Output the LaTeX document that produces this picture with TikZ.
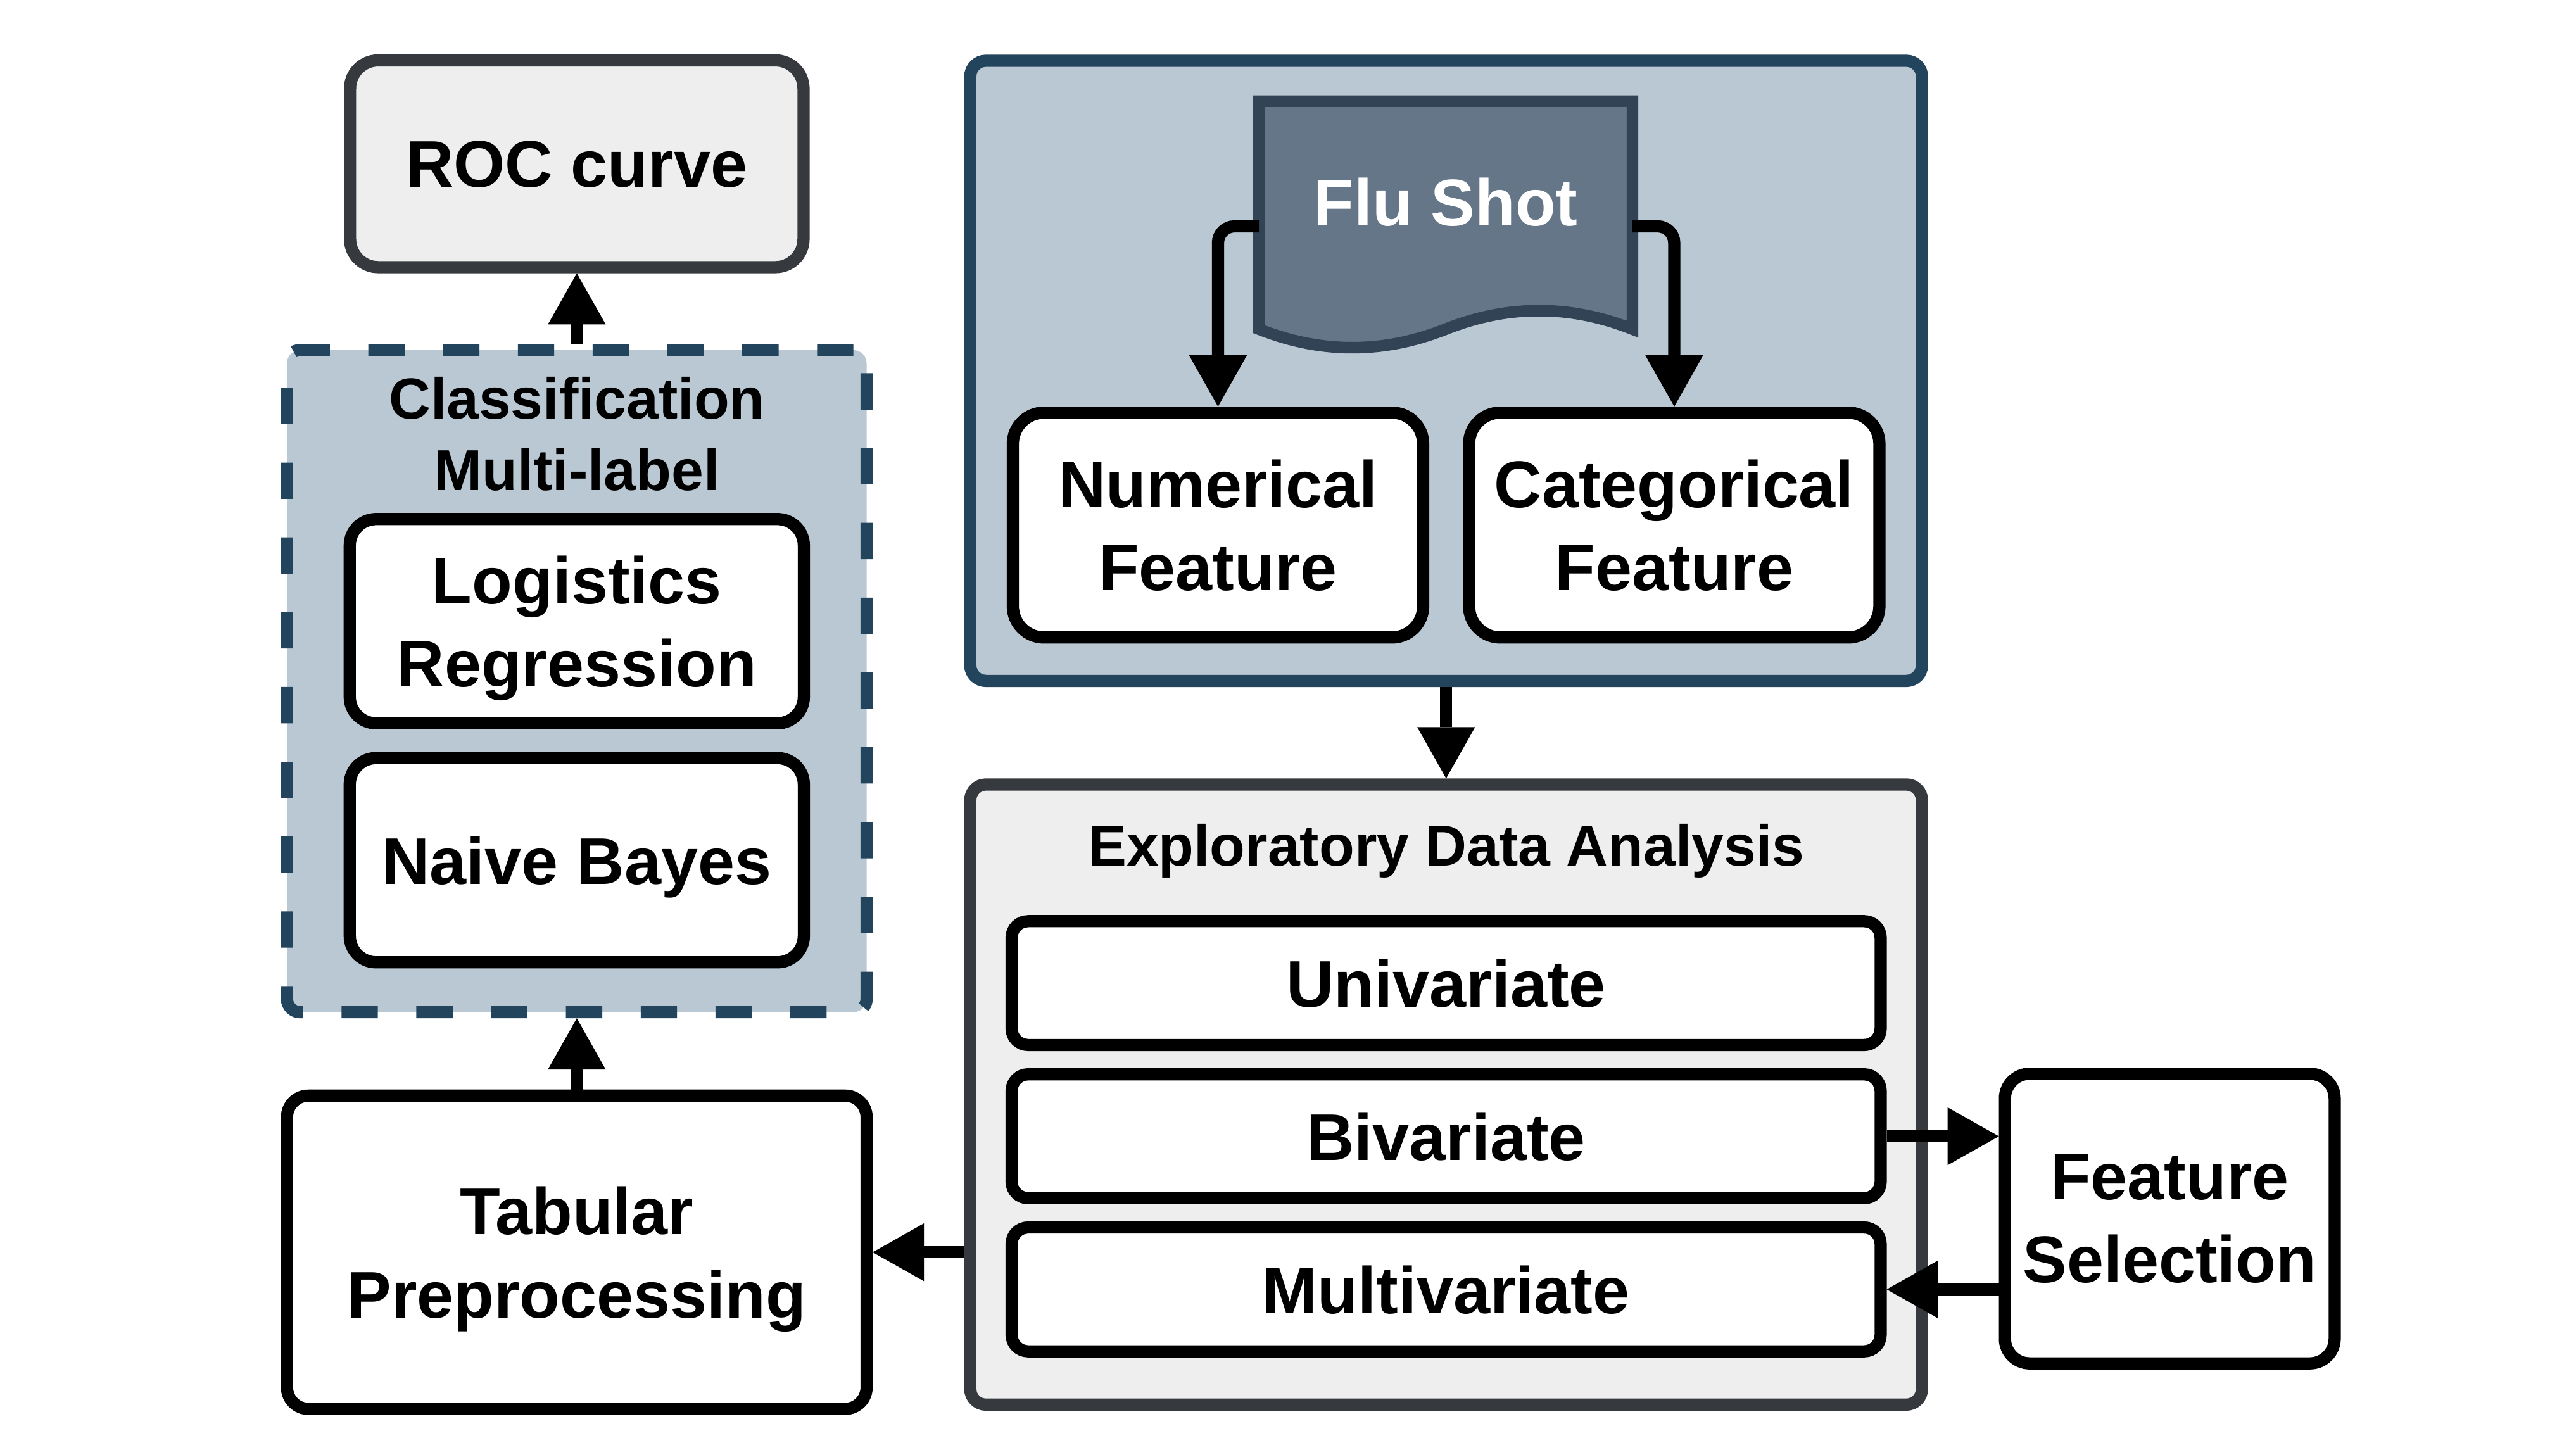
\documentclass[tikz,border=0pt]{standalone}
\usepackage{fontspec}
\setmainfont{Liberation Sans}
\usetikzlibrary{arrows.meta,calc}
\definecolor{bluefill}{HTML}{BAC8D3}
\definecolor{bluestroke}{HTML}{23445D}
\definecolor{docfill}{HTML}{647687}
\definecolor{docstroke}{HTML}{314354}
\definecolor{grayfill}{HTML}{EEEEEE}
\definecolor{graystroke}{HTML}{36393D}
\newcommand\bigtxt{\fontsize{40}{50.3}\selectfont\bfseries}
\newcommand\midtxt{\fontsize{35}{43.5}\selectfont\bfseries}
\begin{document}
\begin{tikzpicture}[x=1pt,y=-1pt,
  box/.style={draw=black, line width=7.4pt, fill=white, rounded corners=16pt,
    inner sep=0pt, align=center, font=\bigtxt, text depth=0pt},
  barbox/.style={box, rounded corners=10pt, minimum width=526.3pt, minimum height=75pt},
  graybox/.style={draw=graystroke, line width=7.4pt, fill=grayfill, inner sep=0pt},
  bluebox/.style={draw=bluestroke, line width=7.4pt, fill=bluefill, inner sep=0pt},
  title/.style={inner sep=0pt, align=center, font=\midtxt, text depth=0pt},
  arr/.style={draw=black, line width=7.4pt,
    -{Triangle[width=35pt,length=31pt,line width=0pt]}}
]
\path[use as bounding box, fill=white] (0,0) rectangle (1560,877.8);

% containers
\node[bluebox, rounded corners=9.5pt, minimum width=576.3pt, minimum height=375.6pt] (blue) at (875.75,224.6) {};
\node[graybox, rounded corners=9.5pt, minimum width=576.3pt, minimum height=375.6pt] (eda) at (875.75,662.9) {};
\node[bluebox, dash pattern=on 22pt off 23.3pt, rounded corners=8pt, minimum width=351pt, minimum height=401pt] (cls) at (349.3,412.5) {};

% ROC
\node[graybox, rounded corners=17pt, minimum width=274.6pt, minimum height=125.2pt, font=\bigtxt, text depth=0pt] (roc) at (349.3,99.2) {ROC curve};

% classification
\node[title] (clst) at (349.3,262.7) {Classification\\Multi-label};
\node[box, minimum width=275pt, minimum height=123.7pt] (lr) at (349.3,376.2) {Logistics\\Regression};
\node[box, minimum width=275pt, minimum height=123.7pt] (nb) at (349.3,520.95) {Naive Bayes};

% tabular
\node[box, rounded corners=13pt, minimum width=351pt, minimum height=189.7pt] (tab) at (349.3,758.4) {Tabular\\Preprocessing};

% flu shot document
\path[fill=docfill, draw=docstroke, line width=7pt]
  (762.4,61.3) -- (988.6,61.3) -- (988.6,199.35)
  .. controls (950.9,184.41) and (913.2,184.41) .. (875.5,199.35)
  .. controls (837.8,214.29) and (800.1,214.29) .. (762.4,199.35) -- cycle;
\node[title, font=\bigtxt, text=white] (flu) at (875.5,122.3) {Flu Shot};
\coordinate (fluL) at (762.4,137.1);
\coordinate (fluR) at (988.6,137.1);

\node[box, rounded corners=19pt, minimum width=248.5pt, minimum height=136.2pt] (num) at (737.6,318) {Numerical\\Feature};
\node[box, rounded corners=19pt, minimum width=248.5pt, minimum height=136.2pt] (cat) at (1013.9,318) {Categorical\\Feature};

% EDA
\node[title] (edat) at (875.75,511.75) {Exploratory Data Analysis};
\node[barbox] (uni) at (875.75,595.4) {Univariate};
\node[barbox] (biv) at (875.75,688.15) {Bivariate};
\node[barbox] (mul) at (875.75,780.9) {Multivariate};

\node[box, rounded corners=15pt, minimum width=199.7pt, minimum height=175.4pt] (fs) at (1314,738) {Feature\\Selection};

% connectors
\draw[arr, rounded corners=10pt] (fluL) -| (num.north);
\draw[arr, rounded corners=10pt] (fluR) -| (cat.north);
\draw[arr] (blue.south) -- (eda.north);
\draw[arr] (biv.east) -- (biv.east -| fs.west);
\draw[arr] (mul.east -| fs.west) -- (mul.east);
\draw[arr] (tab.east -| eda.west) -- (tab.east);
\draw[arr] (tab.north) -- (cls.south);
\draw[arr] (cls.north) -- (roc.south);
\end{tikzpicture}
\end{document}
